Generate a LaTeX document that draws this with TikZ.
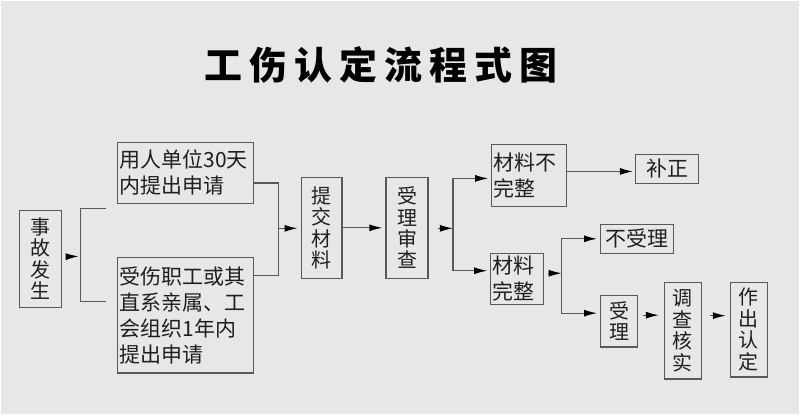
\documentclass[tikz,border=0pt]{standalone}
\usepackage{fontspec}
\newfontfamily\cjk{Noto Sans CJK SC}
\usetikzlibrary{arrows.meta}
\definecolor{bggray}{HTML}{E7E7E7}
\definecolor{linegray}{HTML}{585858}
\definecolor{inkgray}{HTML}{1E1E1E}
\begin{document}
\begin{tikzpicture}[x=1pt,y=-1pt,
  box/.style={draw=linegray,line width=1.3pt,fill=bggray,text=inkgray,
    inner sep=2pt,font=\cjk\fontsize{21pt}{26pt}\selectfont},
  hbox/.style={box,align=left,text width=#1},
  vbox/.style={box,align=center,font=\cjk\fontsize{20pt}{21.5pt}\selectfont},
  line/.style={draw=linegray,line width=1.2pt},
  arrow/.style={line,-{Latex[length=13pt,width=7pt,color=black]}}]
  \draw[fill=bggray,draw=white,line width=1.5pt] (0,0) rectangle (800,415);
  \node[text=black,font=\cjk\bfseries\fontsize{38pt}{40pt}\selectfont] (title) at (381,64)
  {工\hspace{7pt}伤\hspace{7pt}认\hspace{7pt}定\hspace{7pt}流\hspace{7pt}程\hspace{7pt}式\hspace{7pt}图};

  \node[vbox,minimum width=42pt,minimum height=97pt] (sg) at (40,258.5) {事\\故\\发\\生};
  \node[hbox=132pt,minimum height=61pt] (sq1) at (185,172.5) {用人单位30天\\内提出申请};
  \node[hbox=132pt,minimum height=116pt] (sq2) at (185,315)
  {受伤职工或其\\直系亲属、工\\会组织1年内\\提出申请};
  \node[vbox,minimum width=41pt,minimum height=101pt] (tj) at (321.5,227.5) {提\\交\\材\\料};
  \node[vbox,minimum width=42pt,minimum height=101pt] (sc) at (407,227.5) {受\\理\\审\\查};
  \node[hbox=71pt,minimum height=62pt] (bwz) at (529.5,175) {材料不\\完整};
  \node[hbox=49pt,minimum height=51pt] (wz) at (517.5,278.5) {材料\\完整};
  \node[box,minimum width=63pt,minimum height=29pt] (bz) at (667.5,168.5) {补正};
  \node[box,minimum width=73pt,minimum height=29pt] (bsl) at (637.5,238.5) {不受理};
  \node[vbox,minimum width=37pt,minimum height=52pt] (sl) at (619.5,321) {受\\理};
  \node[vbox,minimum width=37pt,minimum height=97pt] (dc) at (683.5,330.5) {调\\查\\核\\实};
  \node[vbox,minimum width=37pt,minimum height=95pt] (zc) at (749.5,329.5) {作\\出\\认\\定};

  % bracket after the accident
  \coordinate (jl) at (80,256);
  \coordinate (jlt) at (105,208);
  \coordinate (jlb) at (105,301);
  \draw[arrow,shorten <=4pt,shorten >=2pt] ([yshift=2pt]sg.east) -- (jl);
  \draw[line] (jlt) -| (jl) |- (jlb);

  % two ways of applying
  \coordinate (jr) at (278,228);
  \draw[line] ([yshift=-10pt]sq1.east) -| (jr);
  \draw[line] ([yshift=40pt]sq2.east) -| (jr);
  \draw[arrow,shorten >=3pt] (jr) -- (tj.west |- jr);
  \draw[arrow,shorten >=3pt] (tj) -- (sc);

  % review
  \coordinate (jc) at (453,228);
  \draw[arrow,shorten <=9pt] (sc.east |- jc) -- (jc);
  \draw[arrow,shorten >=3pt] (jc) |- ([yshift=-3pt]bwz.west);
  \draw[arrow,shorten >=3pt] (jc) |- ([yshift=8pt]wz.west);
  \draw[arrow,shorten >=2pt] ([yshift=4pt]bwz.east) -- ([yshift=4pt]bwz.east -| bz.west);

  % complete materials
  \coordinate (jw) at (562,273);
  \draw[arrow,shorten <=4pt] (wz.east |- jw) -- (jw);
  \draw[arrow,shorten >=3pt] (jw) |- (bsl.west);
  \draw[arrow,shorten >=3pt] (jw) |- ([yshift=8pt]sl.west);
  \draw[arrow,shorten <=5pt,shorten >=5pt] ([yshift=6pt]sl.east) -- ([yshift=6pt]sl.east -| dc.west);
  \draw[arrow,shorten <=8pt,shorten >=4pt] ([yshift=15pt]dc.east) -- ([yshift=15pt]dc.east -| zc.west);
\end{tikzpicture}
\end{document}
